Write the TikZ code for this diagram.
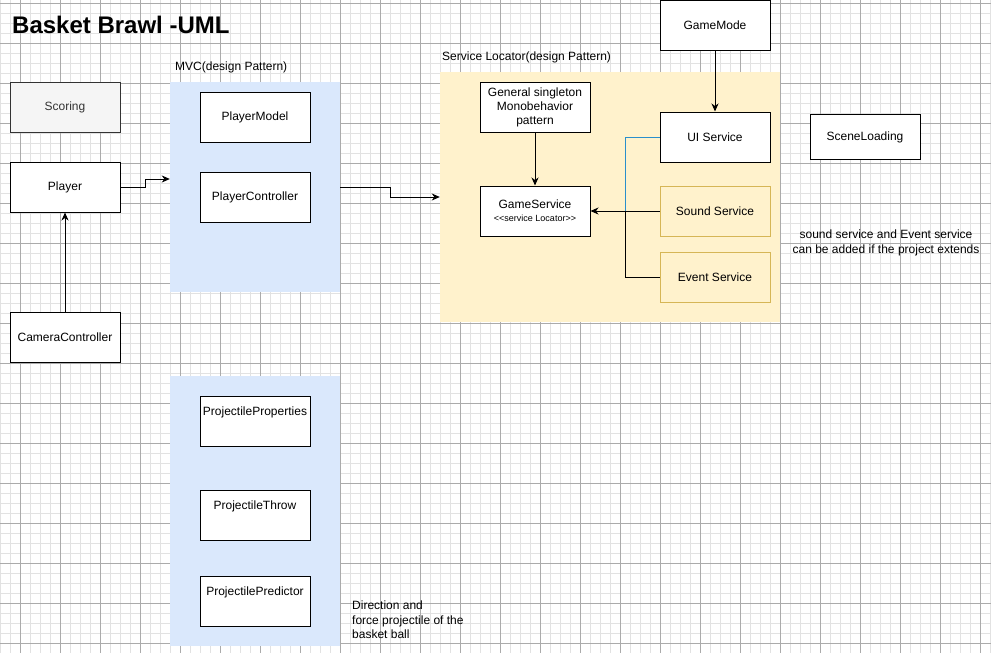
\documentclass[tikz,border=0pt]{standalone}
\usepackage{fontspec}
\setmainfont{Liberation Sans}
\usetikzlibrary{arrows.meta}
\definecolor{mvcblue}{HTML}{DAE8FC}
\definecolor{slyellow}{HTML}{FFF2CC}
\definecolor{sbord}{HTML}{D6B656}
\definecolor{gridminor}{HTML}{E2E2E2}
\definecolor{gridmajor}{HTML}{ABABAB}
\definecolor{scorefill}{HTML}{F5F5F5}
\definecolor{scoreline}{HTML}{333333}
\definecolor{selblue}{HTML}{2A8FCB}
\tikzset{
  box/.style={draw=black, fill=white, line width=1pt, minimum width=110pt, minimum height=50pt, inner sep=0pt, align=center},
  ybox/.style={box, draw=sbord, fill=slyellow},
  container/.style={draw=none, minimum width=170pt, inner sep=0pt},
  txt/.style={inner sep=0pt, align=left},
  conn/.style={line width=1pt, draw=black},
  arr/.style={conn, -{Stealth[length=8pt,width=7pt,inset=2.5pt]}},
}
\begin{document}
\begin{tikzpicture}[x=1pt,y=-1pt,font=\fontsize{12}{14}\selectfont]
\useasboundingbox (0,0) rectangle (991,653);
\fill[white] (0,0) rectangle (991,653);
% grid
\foreach \x in {0,10,...,990} \draw[gridminor,line width=1pt] (\x,0) -- (\x,653);
\foreach \y in {3,13,...,653} \draw[gridminor,line width=1pt] (0,\y) -- (991,\y);
\foreach \x in {20,60,...,980} \draw[gridmajor,line width=1pt] (\x,0) -- (\x,653);
\foreach \y in {3,43,...,643} \draw[gridmajor,line width=1pt] (0,\y) -- (991,\y);

% title
\node[txt, anchor=west, font=\fontsize{24}{26}\selectfont\bfseries] (title) at (12,24.5) {Basket Brawl -UML};

% containers
\node[container, fill=mvcblue, minimum height=210pt] (mvc) at (255,187) {};
\node[container, fill=mvcblue, minimum height=270pt] (proj) at (255,511) {};
\node[container, fill=slyellow, minimum width=340pt, minimum height=250pt] (sl) at (610,197) {};
\node[txt, anchor=west] (mvclabel) at (175,67) {MVC(design Pattern)};
\node[txt, anchor=west] (sllabel) at (442,57) {Service Locator(design Pattern)};

% left column
\node[box, fill=scorefill, draw=scoreline, text=scoreline] (scoring) at (65,107) {Scoring};
\node[box] (player) at (65,187) {Player};
\node[box] (cam) at (65,337) {CameraController};

% MVC
\node[box] (pmodel) at (255,117) {PlayerModel};
\node[box] (pctrl) at (255,197) {PlayerController};

% projectile
\node[box, label={[txt, anchor=center, yshift=-17pt]north:ProjectileProperties}] (pprop) at (255,421) {};
\node[box, label={[txt, anchor=center, yshift=-17pt]north:ProjectileThrow}] (pthrow) at (255,515) {};
\node[box, label={[txt, anchor=center, yshift=-17pt]north:ProjectilePredictor}] (ppred) at (255,601) {};

% service locator
\node[box] (single) at (535,107) {General singleton\\Monobehavior\\pattern};
\node[box] (gs) at (535,211) {GameService\\[-1pt]{\fontsize{9}{10}\selectfont \textless\kern0pt\textless service Locator\textgreater\kern0pt\textgreater}};
\node[box] (gm) at (715,25) {GameMode};
\node[box] (ui) at (715,137) {UI Service};
\node[ybox] (sound) at (715,211) {Sound Service};
\node[ybox] (event) at (715,277) {Event Service};
\node[box, minimum height=45pt] (scene) at (865,137) {SceneLoading};

% notes
\node[txt, align=center, font=\fontsize{12}{15}\selectfont] (note1) at (886,242.5) {sound service and Event service\\can be added if the project extends};
\node[txt, anchor=north west, font=\fontsize{12}{14.5}\selectfont] (note2) at (352,601) {Direction and\\force projectile of the\\basket ball};

% connectors
\draw[arr] (cam.north) -- (player.south);
\draw[arr] (player.east) -- (145,187) |- ([yshift=8pt]mvc.west);
\draw[arr] (mvc.east) -- (390,187) |- (sl.west);
\draw[arr] (single.south) -- (gs.north);
\draw[arr] (gm.south) -- (ui.north);
\draw[arr] (sound.west) -- (gs.east);
\coordinate (bend1) at (625,137);
\coordinate (cross) at (625,211);
\coordinate (bend2) at (625,277);
\draw[line width=1pt, selblue] (ui.west) -- (bend1) -- (cross);
\draw[conn] (cross) -- (bend2) -- (event.west);
\end{tikzpicture}
\end{document}
